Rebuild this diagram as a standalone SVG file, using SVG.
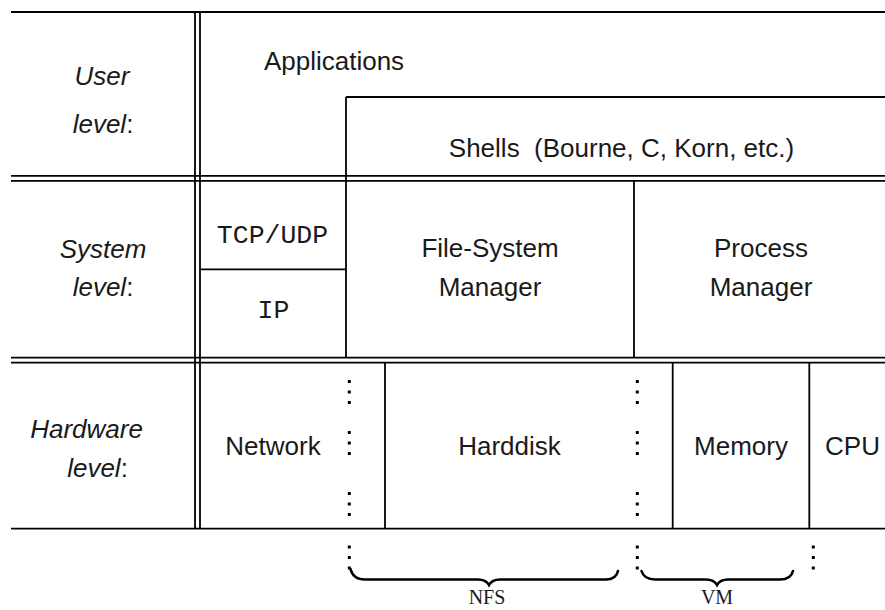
<svg xmlns="http://www.w3.org/2000/svg" xmlns:xlink="http://www.w3.org/1999/xlink" width="885" height="610" viewBox="0 0 885 610">
<style>
.ln{stroke:#000;stroke-width:1.8;fill:none}
.br{stroke:#000;stroke-width:2.6;fill:none;stroke-linecap:round}
.t{font-family:"Liberation Sans",Arial,sans-serif;font-size:26px;fill:#1a1a1a;text-anchor:middle}
.i{font-style:italic}
.m{font-family:"Liberation Mono","Courier New",monospace;font-size:26.5px;fill:#1a1a1a;text-anchor:middle}
.s{font-family:"Liberation Serif","Times New Roman",serif;font-size:20px;fill:#1a1a1a;text-anchor:middle}
</style>
<defs>
<g id="vdots"><rect x="-1.5" y="-1.5" width="3" height="3"/><rect x="-1.5" y="9" width="3" height="3"/><rect x="-1.5" y="19.5" width="3" height="3"/></g>
</defs>
<rect width="885" height="610" fill="#fff"/>
<g id="grid" class="ln">
<line x1="11" y1="12" x2="885" y2="12"/>
<line x1="11" y1="175.8" x2="885" y2="175.8"/>
<line x1="11" y1="180.9" x2="885" y2="180.9"/>
<line x1="11" y1="357.7" x2="885" y2="357.7"/>
<line x1="11" y1="362.7" x2="885" y2="362.7"/>
<line x1="11" y1="528.7" x2="885" y2="528.7"/>
<line x1="195" y1="12" x2="195" y2="528.7"/>
<line x1="200" y1="12" x2="200" y2="528.7"/>
<line x1="346" y1="97" x2="885" y2="97"/>
<line x1="346" y1="97" x2="346" y2="357.7"/>
<line x1="200" y1="269.3" x2="346" y2="269.3"/>
<line x1="634" y1="180.9" x2="634" y2="357.7"/>
<line x1="385" y1="362.7" x2="385" y2="528.7"/>
<line x1="672.7" y1="362.7" x2="672.7" y2="528.7"/>
<line x1="809.3" y1="362.7" x2="809.3" y2="528.7"/>
</g>
<g id="user-label"><text class="t i" x="102" y="85">User</text><text class="t" x="103" y="133"><tspan font-style="italic">level</tspan>:</text></g>
<g id="applications"><text class="t" x="334" y="70">Applications</text></g>
<g id="shells"><text class="t" x="621.5" y="157" xml:space="preserve">Shells  (Bourne, C, Korn, etc.)</text></g>
<g id="system-label"><text class="t i" x="103" y="258">System</text><text class="t" x="103" y="296"><tspan font-style="italic">level</tspan>:</text></g>
<g id="tcpudp"><text class="m" x="272.5" y="243">TCP/UDP</text></g>
<g id="ip"><text class="m" x="273.5" y="318">IP</text></g>
<g id="fsm"><text class="t" x="490" y="257">File-System</text><text class="t" x="490" y="296">Manager</text></g>
<g id="pm"><text class="t" x="761" y="257">Process</text><text class="t" x="761" y="296">Manager</text></g>
<g id="hardware-label"><text class="t i" x="86.5" y="438">Hardware</text><text class="t" x="97.5" y="477"><tspan font-style="italic">level</tspan>:</text></g>
<g id="network"><text class="t" x="273" y="455">Network</text></g>
<g id="harddisk"><text class="t" x="509.5" y="455">Harddisk</text></g>
<g id="memory"><text class="t" x="741" y="455">Memory</text></g>
<g id="cpu"><text class="t" x="852.5" y="455">CPU</text></g>
<g id="connectors">
<use xlink:href="#vdots" x="349.3" y="381.5"/>
<use xlink:href="#vdots" x="349.3" y="432.5"/>
<use xlink:href="#vdots" x="349.3" y="493.5"/>
<use xlink:href="#vdots" x="349.3" y="547"/>
<use xlink:href="#vdots" x="637.3" y="381.5"/>
<use xlink:href="#vdots" x="637.3" y="432.5"/>
<use xlink:href="#vdots" x="637.3" y="493.5"/>
<use xlink:href="#vdots" x="637.3" y="547"/>
<use xlink:href="#vdots" x="813.3" y="547"/>
</g>
<g id="nfs-brace"><path class="br" d="M350.5,569 Q353,579.5 365,579.5 L478,579.5 Q486,579.5 489,585 Q492,579.5 500,579.5 L606,579.5 Q616,579.5 618,571"/><text class="s" x="487" y="604">NFS</text></g>
<g id="vm-brace"><path class="br" d="M641.5,571 Q644,579.5 655,579.5 L706,579.5 Q714,579.5 717,585 Q720,579.5 728,579.5 L780,579.5 Q791,579.5 793,571"/><text class="s" x="717" y="604">VM</text></g>
</svg>
